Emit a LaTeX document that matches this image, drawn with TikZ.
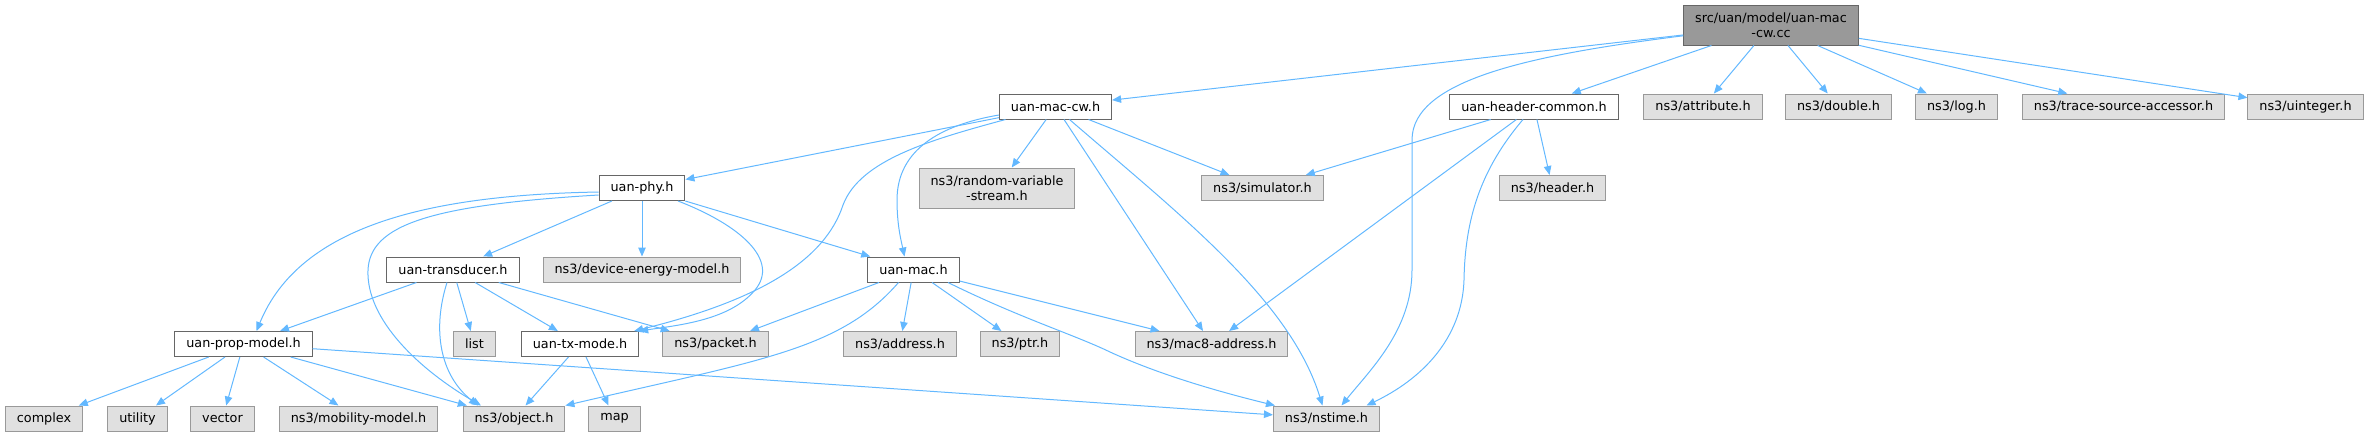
\documentclass[tikz,border=0pt]{standalone}
\usepackage{fontspec}
\setmainfont{DejaVu Sans}
\usepackage{xcolor}
\usetikzlibrary{arrows.meta}
\definecolor{edgeblue}{HTML}{63B8FF}
\definecolor{extfill}{HTML}{E0E0E0}
\definecolor{extline}{HTML}{999999}
\definecolor{hdrline}{HTML}{666666}
\definecolor{rootfill}{HTML}{999999}
\tikzset{
	hdr/.style={draw=hdrline, fill=white, line width=1pt, minimum height=25pt, inner xsep=11.5pt, inner ysep=2pt, align=center, font=\fontsize{12.8}{15}\selectfont},
	ext/.style={hdr, draw=extline, fill=extfill},
	rootfile/.style={hdr, fill=rootfill, minimum height=40pt},
	dep/.style={draw=edgeblue, line width=1pt, -{Triangle[length=9pt,width=7.5pt]}}
}

\begin{document}
\begin{tikzpicture}[x=1pt, y=-1pt]
	\useasboundingbox (0,0) rectangle (2368,437);
	\node[rootfile] (root) at (1771,25) {src/uan/model/uan-mac\\-cw.cc};
	\node[hdr] (maccw) at (1055.5,106.5) {uan-mac-cw.h};
	\node[hdr] (hdrcommon) at (1534,106.5) {uan-header-common.h};
	\node[ext] (attribute) at (1703,106.5) {ns3/attribute.h};
	\node[ext] (double) at (1838.5,106.5) {ns3/double.h};
	\node[ext] (log) at (1956.5,106.5) {ns3/log.h};
	\node[ext] (trace) at (2123.5,106.5) {ns3/trace-source-accessor.h};
	\node[ext] (uinteger) at (2305.5,106.5) {ns3/uinteger.h};
	\node[hdr] (phy) at (642,188) {uan-phy.h};
	\node[ext, minimum height=40pt] (random) at (997,188) {ns3/random-variable\\-stream.h};
	\node[ext] (simulator) at (1262.5,188) {ns3/simulator.h};
	\node[ext] (header) at (1552.5,188) {ns3/header.h};
	\node[hdr] (trans) at (453,269.5) {uan-transducer.h};
	\node[ext] (device) at (642,269.5) {ns3/device-energy-model.h};
	\node[hdr] (umac) at (913.5,269.5) {uan-mac.h};
	\node[hdr] (prop) at (243.5,344) {uan-prop-model.h};
	\node[ext] (list) at (474.5,344) {list};
	\node[hdr] (txmode) at (580,344) {uan-tx-mode.h};
	\node[ext] (packet) at (715.5,344) {ns3/packet.h};
	\node[ext] (address) at (900,344) {ns3/address.h};
	\node[ext] (ptr) at (1020,344) {ns3/ptr.h};
	\node[ext] (mac8) at (1211.5,344) {ns3/mac8-address.h};
	\node[ext] (complex) at (44,418.5) {complex};
	\node[ext] (utility) at (137.5,418.5) {utility};
	\node[ext] (vector) at (222.5,418.5) {vector};
	\node[ext] (mobility) at (358.5,418.5) {ns3/mobility-model.h};
	\node[ext] (object) at (514,418.5) {ns3/object.h};
	\node[ext] (map) at (614.5,418.5) {map};
	\node[ext] (nstime) at (1326.5,418.5) {ns3/nstime.h};

	\draw[dep] (root) -- (maccw);
	\draw[dep] (root) -- (hdrcommon);
	\draw[dep] (root) -- (attribute);
	\draw[dep] (root) -- (double);
	\draw[dep] (root) -- (log);
	\draw[dep] (root) -- (trace);
	\draw[dep] (root) -- (uinteger);
	\draw[dep] (root.187) .. controls (1530,55) and (1412,80) .. (1412,140) -- (1412,270) .. controls (1412,330) and (1370,370) .. ([xshift=15pt]nstime.north);

	\draw[dep] (maccw) -- (phy);
	\draw[dep] (maccw) -- (random);
	\draw[dep] (maccw) -- (simulator);
	\draw[dep] (maccw) -- (mac8);
	\draw[dep] ([yshift=-8.5pt]maccw.west) .. controls (940,125) and (897,150) .. (897,200) .. controls (897,225) and (901,240) .. ([xshift=-9pt]umac.north);
	\draw[dep] ([xshift=-50pt]maccw.south) .. controls (930,140) and (860,160) .. (843,205) .. controls (825,260) and (760,300) .. ([xshift=-5pt]txmode.north east);
	\draw[dep] ([xshift=14pt]maccw.south) .. controls (1180,215) and (1290,300) .. ([xshift=-4pt]nstime.north);

	\draw[dep] (hdrcommon) -- (simulator);
	\draw[dep] (hdrcommon) -- (mac8);
	\draw[dep] (hdrcommon) -- (header);
	\draw[dep] ([xshift=-11pt]hdrcommon.south) .. controls (1480,170) and (1465,220) .. (1464,280) .. controls (1462,340) and (1420,380) .. ([xshift=40pt]nstime.north);

	\draw[dep] (phy) -- (trans);
	\draw[dep] (phy) -- (device);
	\draw[dep] (phy) -- (umac);
	\draw[dep] ([yshift=-4pt]phy.west) .. controls (430,195) and (300,225) .. ([xshift=13pt]prop.north);
	\draw[dep] ([yshift=-7pt]phy.west) .. controls (430,205) and (370,225) .. (368,270) .. controls (366,320) and (420,370) .. ([xshift=-33pt]object.north);
	\draw[dep] ([xshift=36pt]phy.south) .. controls (740,225) and (780,260) .. (755,290) .. controls (730,320) and (680,325) .. (txmode.north east);

	\draw[dep] (trans) -- (prop);
	\draw[dep] (trans) -- (list);
	\draw[dep] (trans) -- (txmode);
	\draw[dep] (trans) -- (packet);
	\draw[dep] ([xshift=-6pt]trans.south) .. controls (432,330) and (440,375) .. ([xshift=-36pt]object.north);

	\draw[dep] (umac) -- (packet);
	\draw[dep] (umac) -- (address);
	\draw[dep] (umac) -- (ptr);
	\draw[dep] (umac) -- (mac8);
	\draw[dep] ([xshift=-15pt]umac.south) .. controls (840,350) and (760,360) .. (object.north east);
	\draw[dep] ([xshift=34.5pt]umac.south) .. controls (1020,318) and (1075,335) .. (1110,352) .. controls (1160,375) and (1220,392) .. ([xshift=2pt]nstime.north west);

	\draw[dep] (prop) -- (complex);
	\draw[dep] (prop) -- (utility);
	\draw[dep] (prop) -- (vector);
	\draw[dep] (prop) -- (mobility);
	\draw[dep] (prop) -- (object);
	\draw[dep] (prop) -- (nstime);

	\draw[dep] (txmode) -- (object);
	\draw[dep] (txmode) -- (map);
\end{tikzpicture}
\end{document}
